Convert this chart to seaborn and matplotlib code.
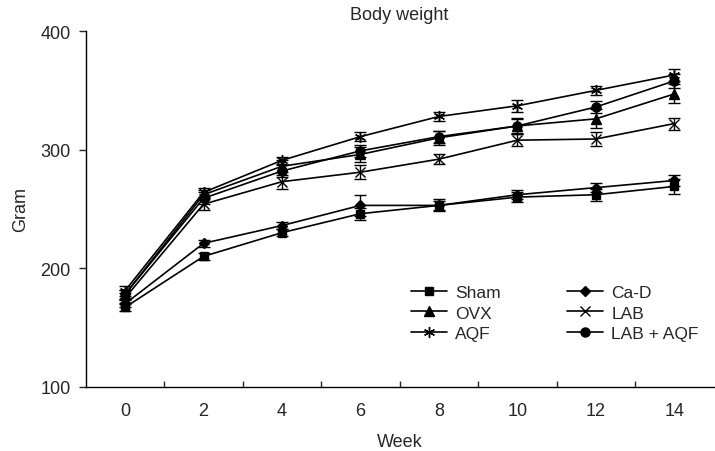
import numpy as np
import pandas as pd
import matplotlib
matplotlib.use("Agg")
import matplotlib.pyplot as plt
import seaborn as sns

# Data
weeks = [0, 2, 4, 6, 8, 10, 12, 14]
groups = ["Sham", "OVX", "AQF", "Ca-D", "LAB", "LAB + AQF"]

sham = [167, 210, 230, 246, 253, 260, 262, 269]
sham_err = [3, 3, 3, 5, 4, 4, 5, 6]
ovx = [178, 262, 286, 296, 310, 320, 326, 347]
ovx_err = [4, 4, 5, 6, 6, 7, 8, 8]
aqf = [181, 264, 291, 311, 328, 337, 350, 363]
aqf_err = [4, 4, 3, 4, 4, 5, 4, 5]
cad = [170, 221, 236, 253, 253, 262, 268, 274]
cad_err = [3, 3, 3, 9, 5, 4, 4, 5]
lab = [175, 254, 273, 281, 292, 308, 309, 322]
lab_err = [4, 5, 6, 6, 4, 5, 6, 5]
lab_aqf = [178, 259, 282, 299, 311, 320, 336, 358]
lab_aqf_err = [4, 5, 5, 5, 5, 6, 5, 6]

values = [sham, ovx, aqf, cad, lab, lab_aqf]
errors = [sham_err, ovx_err, aqf_err, cad_err, lab_err, lab_aqf_err]
markers = ["s", "^", (6, 2, 0), "D", "x", "o"]
msizes = [5.5, 6.5, 8, 5, 6.5, 6.5]

sns.set_style("ticks")
plt.rcParams['font.family'] = ['Liberation Sans', 'DejaVu Sans']

fig = plt.figure(figsize=(7.15, 4.52), dpi=100)
ax = fig.add_axes([0.120, 0.142, 0.878, 0.787])

pos = np.arange(len(weeks))
for name, vals, err, mk, ms in zip(groups, values, errors, markers, msizes):
    df = pd.DataFrame({"pos": pos, "weight": vals})
    ax.errorbar(pos, vals, yerr=err, fmt="none", ecolor="black",
                elinewidth=1.0, capsize=4, capthick=1.0)
    sns.lineplot(data=df, x="pos", y="weight", ax=ax, color="black",
                 marker=mk, markersize=ms, markeredgecolor="black",
                 markerfacecolor="black", markeredgewidth=1.0,
                 linewidth=1.2, label=name)

ax.set_xlim(-0.5, 7.5)
ax.set_ylim(100, 400)
ax.set_yticks([100, 200, 300, 400])
ax.set_xticks(pos)
ax.set_xticklabels([str(w) for w in weeks])
ax.set_xticks(np.arange(0.5, 7, 1), minor=True)
ax.tick_params(axis="x", which="major", length=0, labelsize=13, pad=11)
ax.tick_params(axis="x", which="minor", direction="in", length=4, width=1)
ax.tick_params(axis="y", direction="out", length=5, width=1, labelsize=13, pad=6)
sns.despine(ax=ax)
for s in ["left", "bottom"]:
    ax.spines[s].set_linewidth(1.0)
    ax.spines[s].set_color("black")

ax.set_xlabel("Week", fontsize=13, labelpad=10)
ax.set_ylabel("Gram", fontsize=13, labelpad=8)
fig.text(0.558, 0.965, "Body weight", ha="center", va="center", fontsize=13)

ax.legend(ncol=2, frameon=False, fontsize=12.5, loc="upper left",
          bbox_to_anchor=(411 / 715, 1 - 286 / 452),
          bbox_transform=fig.transFigure, borderpad=0, borderaxespad=0,
          handlelength=2.1, columnspacing=3.8, labelspacing=0.3,
          handletextpad=0.45)

fig.savefig("out.png", dpi=100)
